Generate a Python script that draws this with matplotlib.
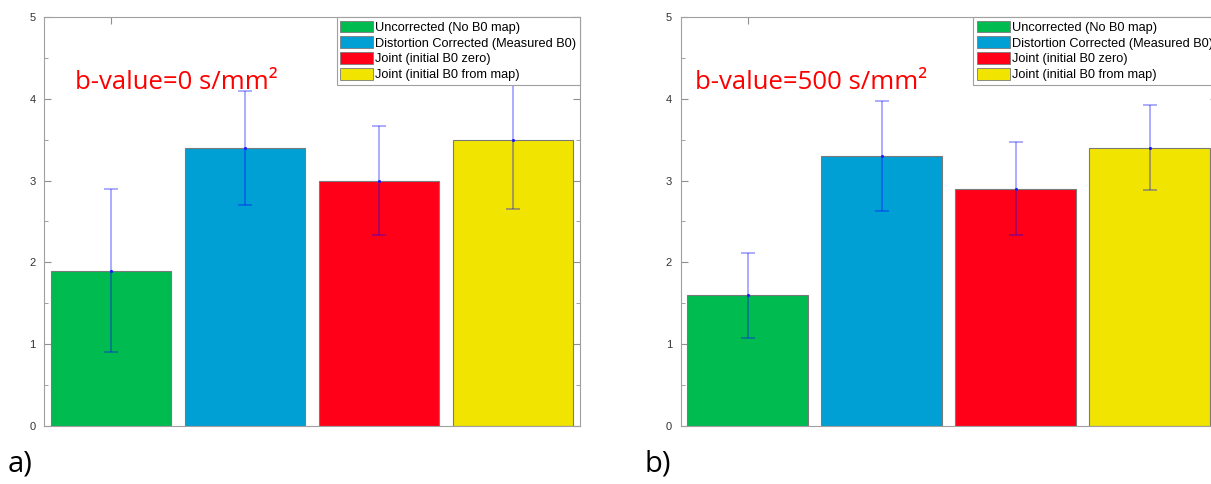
import numpy as np
import matplotlib
matplotlib.use("Agg")
import matplotlib.pyplot as plt
from matplotlib.patches import Patch

# DATA

methods = [
    "Uncorrected (No B0 map)",
    "Distortion Corrected (Measured B0)",
    "Joint (initial B0 zero)",
    "Joint (initial B0 from map)",
]
colors = ["#00bb50", "#00a0d4", "#ff0018", "#f0e400"]

panel_titles = ["b-value=0 s/mm\u00b2", "b-value=500 s/mm\u00b2"]
panel_labels = ["a)", "b)"]

means_b0 = [1.9, 3.4, 3.0, 3.5]
err_b0 = [1.0, 0.7, 0.67, 0.85]

means_b500 = [1.6, 3.3, 2.9, 3.4]
err_b500 = [0.52, 0.67, 0.57, 0.52]

y_ticks = [0, 1, 2, 3, 4, 5]

# FIGURE

W, H = 1211, 484
fig = plt.figure(figsize=(W / 100, H / 100), dpi=100)
plt.rcParams["font.family"] = ["Liberation Sans", "DejaVu Sans"]

ax_w = 536 / W
ax_h = 409 / H
ax_y = 58 / H
ax_lefts = [44 / W, 680.5 / W]
title_x = [0.058, 0.027]

panels = [(means_b0, err_b0), (means_b500, err_b500)]

for k, (means, errs) in enumerate(panels):
    ax = fig.add_axes([ax_lefts[k], ax_y, ax_w, ax_h])
    x = np.arange(1, len(means) + 1)

    ax.bar(x, means, width=0.9, color=colors,
           edgecolor="#7a7a7a", linewidth=0.8, zorder=2)
    ax.errorbar(x, means, yerr=errs, fmt=".", color=(0.1, 0.1, 1.0),
                ecolor=(0.0, 0.0, 1.0, 0.35), elinewidth=1.3,
                capsize=5, capthick=1.3, markersize=2.5, zorder=3)

    ax.set_xlim(0.5, 4.5)
    ax.set_ylim(0, 5)
    ax.set_yticks(y_ticks)
    ax.set_yticks(np.arange(0, 5.01, 0.5), minor=True)
    ax.set_xticks([1])
    ax.set_xticklabels([])
    ax.tick_params(axis="both", which="both", direction="in",
                   top=True, right=True, colors="#909090",
                   labelcolor="#333333", labelsize=8)
    ax.tick_params(axis="y", which="major", length=5, pad=6)
    ax.tick_params(axis="y", which="minor", length=3)
    ax.tick_params(axis="x", length=5)
    for sp in ax.spines.values():
        sp.set_color("#a0a0a0")
        sp.set_linewidth(0.8)

    handles = [Patch(facecolor=c, edgecolor="#7a7a7a", linewidth=0.6)
                for c in colors]
    leg = ax.legend(handles, methods, loc="upper right", fontsize=9.2,
                    frameon=True, fancybox=False, borderaxespad=0.0,
                    framealpha=1.0,
                    handlelength=2.6, handleheight=1.0, handletextpad=0.15,
                    labelspacing=0.22, borderpad=0.28)
    leg.get_frame().set_edgecolor("#a0a0a0")
    leg.get_frame().set_linewidth(0.8)
    leg.set_zorder(5)

    ax.text(title_x[k], 0.825, panel_titles[k], transform=ax.transAxes,
            color="#ff0000", fontsize=18.5, family=["Open Sans", "DejaVu Sans"],
            ha="left", va="baseline")

    fig.text(ax_lefts[k] - 36 / W, 6 / H, panel_labels[k], fontsize=21,
             family=["Open Sans", "DejaVu Sans"], ha="left", va="bottom")

fig.savefig("out.png", dpi=100)
